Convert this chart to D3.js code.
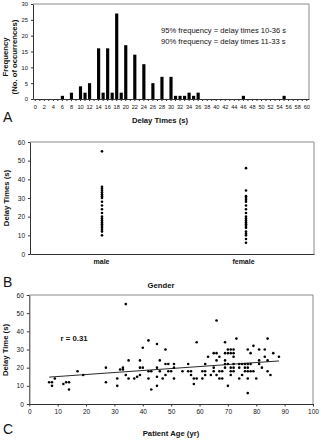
<!DOCTYPE html>
<html>
<head>
<meta charset="utf-8">
<script src="https://cdn.jsdelivr.net/npm/d3@7"></script>
<style>
  body { margin: 0; background: #fff; }
  svg { display: block; font-family: "Liberation Sans", Arial, sans-serif; }
  .domain { stroke: #333; }
  .tick line { stroke: #333; }
</style>
</head>
<body>
<svg id="fig" width="321" height="440"></svg>
<script>
// =========================
// DADES
// =========================

// A: histogram of delay times (one bin per second, 0..60)
const delayBins = d3.range(0, 61);
const delayCounts = [
  0, 0, 0, 0, 0, 0, 1, 0, 2, 0,
  4, 2, 5, 0, 16, 2, 16, 2, 27, 2,
  17, 0, 14, 0, 11, 0, 5, 0, 7, 0,
  7, 1, 1, 1, 2, 1, 2, 0, 0, 0,
  0, 0, 0, 0, 0, 0, 1, 0, 0, 0,
  0, 0, 0, 0, 0, 1, 0, 0, 0, 0,
  0
];
const freqNotes = [
  "95% frequency = delay times 10-36 s",
  "90% frequency = delay times 11-33 s"
];

// B: delay times by gender
const genders = ["male", "female"];
const maleDelays = [10, 12, 13, 14, 15, 16, 17, 18, 19, 20, 22, 24, 26, 28, 30, 31, 32, 33, 34, 35, 36, 55];
const femaleDelays = [6, 8, 10, 11, 12, 14, 15, 16, 17, 18, 19, 20, 22, 24, 26, 28, 29, 30, 31, 34, 46];

// C: delay time vs patient age
const patientAges = [
  7, 8, 8, 9, 12, 13, 14, 14, 17, 19,
  27, 27, 31, 31, 32, 33, 33, 34, 34, 35, 35, 37, 38, 39, 39, 39, 40, 40,
  42, 42, 43, 42, 43, 45, 45, 45, 45, 46, 46, 47, 48, 48, 48, 49, 49, 50,
  51, 51, 51, 54, 56, 56, 57, 57, 58, 58, 59, 59,
  61, 62, 61, 62, 62, 63, 64, 65, 65, 65, 66, 66, 66, 66, 67, 67, 68, 67, 68,
  69, 69, 70, 69, 69, 70, 69, 70, 71, 72, 70, 71, 72, 71, 71, 71, 72, 72, 72, 72,
  73, 74, 75, 76, 77, 74, 76, 77, 74, 75, 76, 77, 77, 77, 77, 78, 78, 79, 78, 79,
  80, 81, 81, 81, 82, 83, 83, 84, 84, 84, 85, 86, 88
];
const ageDelays = [
  12, 12, 10, 14, 11, 12, 12, 8, 18, 16,
  20, 12, 14, 10, 19, 19, 20, 55, 16, 24, 14, 14, 15, 24, 20, 16, 20, 31,
  35, 18, 18, 14, 8, 33, 20, 15, 10, 24, 18, 14, 30, 16, 22, 22, 18, 18,
  22, 20, 14, 18, 22, 18, 18, 16, 11, 14, 14, 34,
  18, 18, 14, 16, 22, 26, 16, 20, 18, 28, 28, 46, 24, 16, 26, 18, 18, 14, 14,
  34, 28, 28, 24, 22, 22, 20, 30, 30, 30, 10, 28, 28, 16, 18, 20, 20, 22, 18, 26,
  36, 22, 22, 22, 22, 20, 20, 20, 14, 16, 18, 18, 14, 6, 30, 28, 18, 18, 22, 32,
  14, 30, 24, 22, 20, 30, 26, 18, 36, 24, 16, 28, 26
];
const trendAges = [7, 88];
const trendDelays = [14.8, 23.7];
const corrLabel = "r = 0.31";

// =========================
// ESTILS
// =========================

const svg = d3.select("#fig");
const titleSize = "7.7px";
const INK = "#111";
const FRAME = "#8a8a8a";

function frame(x0, x1, y0, y1) {
  svg.append("path")
    .attr("d", `M${x0},${y0}H${x1}V${y1}`)
    .attr("fill", "none")
    .attr("stroke", FRAME)
    .attr("stroke-width", 1);
}

function styleAxis(g, size) {
  g.selectAll("text").style("font-size", size).attr("fill", INK);
  g.select(".domain").attr("stroke", "#333");
  g.selectAll(".tick line").attr("stroke", "#333");
}

function axisTitle(x, y, text, rotate) {
  svg.append("text")
    .attr("transform", `translate(${x},${y})` + (rotate ? " rotate(-90)" : ""))
    .attr("text-anchor", "middle")
    .style("font-size", titleSize)
    .style("font-weight", "bold")
    .attr("fill", INK)
    .text(text);
}

function panelLetter(x, y, letter) {
  svg.append("text")
    .attr("x", x).attr("y", y)
    .style("font-size", "14px")
    .attr("fill", INK)
    .text(letter);
}

// =========================
// PANELL A
// =========================

const xA = d3.scaleBand().domain(delayBins).range([33, 309]).paddingInner(0.3).paddingOuter(0.15);
const yA = d3.scaleLinear().domain([0, 30]).range([99, 4]);

frame(33, 309, 4, 99);

svg.append("g")
  .selectAll("rect")
  .data(delayBins.filter((d, i) => delayCounts[i] > 0))
  .join("rect")
  .attr("x", d => xA(d))
  .attr("width", xA.bandwidth())
  .attr("y", d => yA(delayCounts[d]))
  .attr("height", d => yA(0) - yA(delayCounts[d]))
  .attr("fill", "#000");

const gAx = svg.append("g")
  .attr("transform", "translate(0,99)")
  .call(d3.axisBottom(xA).tickSize(2).tickSizeOuter(0)
    .tickFormat(d => d % 2 === 0 ? d : ""));
gAx.selectAll("text").attr("dy", "0.9em");
styleAxis(gAx, "5.6px");

const gAy = svg.append("g")
  .attr("transform", "translate(33,0)")
  .call(d3.axisLeft(yA).tickValues([0, 5, 10, 15, 20, 25, 30]).tickSize(2).tickSizeOuter(0));
styleAxis(gAy, "5.8px");

svg.append("g")
  .selectAll("text")
  .data(freqNotes)
  .join("text")
  .attr("x", 161)
  .attr("y", (d, i) => 33 + i * 11)
  .style("font-size", "7.6px")
  .attr("fill", INK)
  .text(d => d);

axisTitle(8, 57, "Frequency", true);
axisTitle(16.5, 57, "(No. of occurrences)", true);
axisTitle(160, 123, "Delay Times (s)", false);
panelLetter(3, 122, "A");

// =========================
// PANELL B
// =========================

const xB = d3.scalePoint().domain(genders).range([30, 314]).padding(0.5);
const yB = d3.scaleLinear().domain([0, 60]).range([254, 142]);

frame(30, 314, 142, 254);

const genderPoints = [
  ...maleDelays.map(v => ({ g: "male", v })),
  ...femaleDelays.map(v => ({ g: "female", v }))
];

svg.append("g")
  .selectAll("circle")
  .data(genderPoints)
  .join("circle")
  .attr("cx", d => xB(d.g) + (d.g === "female" ? 3 : 1))
  .attr("cy", d => yB(d.v))
  .attr("r", 1.3)
  .attr("fill", "#000");

const gBx = svg.append("g")
  .attr("transform", "translate(0,254)")
  .call(d3.axisBottom(xB).tickSize(0).tickSizeOuter(0).tickPadding(5));
gBx.selectAll("text").style("font-weight", "bold");
styleAxis(gBx, "7px");

const gBy = svg.append("g")
  .attr("transform", "translate(30,0)")
  .call(d3.axisLeft(yB).ticks(6).tickSize(2).tickSizeOuter(0));
styleAxis(gBy, "6.5px");

axisTitle(9, 198, "Delay Times (s)", true);
axisTitle(161, 288, "Gender", false);
panelLetter(3, 287, "B");

// =========================
// PANELL C
// =========================

const xC = d3.scaleLinear().domain([0, 100]).range([29.3, 313]);
const yC = d3.scaleLinear().domain([0, 60]).range([404, 295]);

frame(29.3, 313, 295, 404);

svg.append("g")
  .selectAll("circle")
  .data(patientAges.map((a, i) => [a, ageDelays[i]]))
  .join("circle")
  .attr("cx", d => xC(d[0]))
  .attr("cy", d => yC(d[1]))
  .attr("r", 1.3)
  .attr("fill", "#000");

svg.append("path")
  .datum(trendAges.map((a, i) => [a, trendDelays[i]]))
  .attr("d", d3.line().x(d => xC(d[0])).y(d => yC(d[1])))
  .attr("fill", "none")
  .attr("stroke", "#111")
  .attr("stroke-width", 0.9);

const gCx = svg.append("g")
  .attr("transform", "translate(0,404)")
  .call(d3.axisBottom(xC).ticks(10).tickSize(2.5).tickSizeOuter(0));
styleAxis(gCx, "6.5px");

const gCy = svg.append("g")
  .attr("transform", "translate(29.3,0)")
  .call(d3.axisLeft(yC).ticks(6).tickSize(2.5).tickSizeOuter(0));
styleAxis(gCy, "6.5px");

svg.append("text")
  .attr("x", xC(11))
  .attr("y", yC(34.5))
  .style("font-size", "7.8px")
  .style("font-weight", "bold")
  .attr("fill", INK)
  .text(corrLabel);

axisTitle(8, 350, "Delay Time (s)", true);
axisTitle(171, 436, "Patient Age (yr)", false);
panelLetter(3, 434, "C");
</script>
</body>
</html>
